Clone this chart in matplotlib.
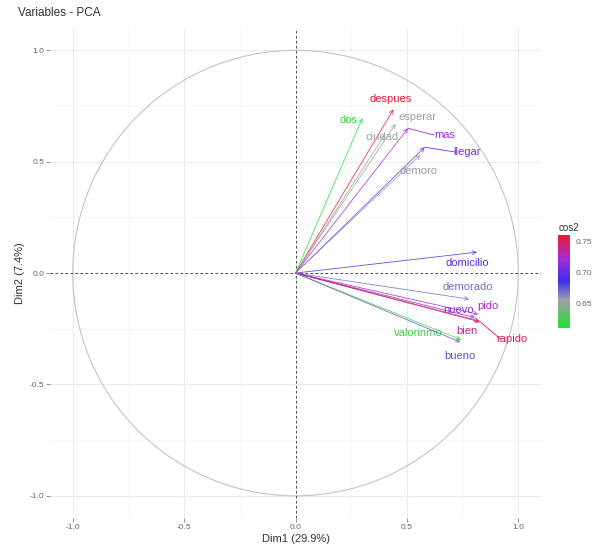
import numpy as np
import matplotlib
matplotlib.use('Agg')
import matplotlib.pyplot as plt
from matplotlib.colors import LinearSegmentedColormap, Normalize
from matplotlib.patches import Circle

plt.rcParams['font.family'] = ['Liberation Sans', 'DejaVu Sans']

# variable coordinates on Dim1 / Dim2 and their cos2
names = ['despues', 'dos', 'esperar', 'ciudad', 'mas', 'llegar', 'demoro',
         'domicilio', 'demorado', 'pido', 'nuevo', 'bien', 'rapido',
         'valorinmo', 'bueno']
dim1 = [0.44, 0.30, 0.45, 0.40, 0.505, 0.58, 0.56,
        0.815, 0.78, 0.82, 0.805, 0.825, 0.83, 0.745, 0.74]
dim2 = [0.735, 0.695, 0.67, 0.62, 0.65, 0.565, 0.53,
        0.094, -0.117, -0.185, -0.20, -0.215, -0.22, -0.30, -0.31]
cos2 = [0.76, 0.61, 0.655, 0.652, 0.72, 0.705, 0.657,
        0.695, 0.668, 0.725, 0.71, 0.735, 0.75, 0.62, 0.674]

# label placement (repelled text positions)
lab_x = [0.425, 0.237, 0.546, 0.39, 0.67, 0.77, 0.55,
         0.77, 0.774, 0.864, 0.73, 0.77, 0.97, 0.55, 0.74]
lab_y = [0.78, 0.686, 0.70, 0.61, 0.62, 0.543, 0.457,
         0.045, -0.063, -0.148, -0.166, -0.26, -0.296, -0.27, -0.372]
segments = ['mas', 'llegar', 'rapido']

cmap = LinearSegmentedColormap.from_list(
    'cos2', [(0.0, '#22e030'), (0.3, '#a0a0a8'), (0.5, '#3a2cf0'),
             (0.74, '#a42cd8'), (1.0, '#f01830')])
norm = Normalize(vmin=0.61, vmax=0.76)

fig = plt.figure(figsize=(5.97, 5.50), dpi=100)
ax = fig.add_axes([0.084, 0.058, 0.822, 0.891])
ax.set_xlim(-1.1, 1.1)
ax.set_ylim(-1.1, 1.1)
ax.set_aspect('equal', adjustable='box')

for s in ax.spines.values():
    s.set_visible(False)
ticks = [-1.0, -0.5, 0.0, 0.5, 1.0]
ax.set_xticks(ticks)
ax.set_yticks(ticks)
ax.set_xticks([-0.75, -0.25, 0.25, 0.75], minor=True)
ax.set_yticks([-0.75, -0.25, 0.25, 0.75], minor=True)
ax.grid(True, which='major', color='#ebebeb', lw=0.8)
ax.grid(True, which='minor', color='#f5f5f5', lw=0.5)
ax.set_axisbelow(True)
ax.tick_params(which='major', length=3, width=0.5, color='#666666',
               labelsize=6, labelcolor='#666666', pad=1.5)
ax.tick_params(which='minor', length=0)
ax.set_xticklabels(['-1.0', '-0.5', '0.0', '0.5', '1.0'])
ax.set_yticklabels(['-1.0', '-0.5', '0.0', '0.5', '1.0'])

ax.add_patch(Circle((0, 0), 1, fill=False, color='#c4c4c4', lw=0.8))
ax.axhline(0, color='#333333', ls=(0, (3, 3)), lw=0.6)
ax.axvline(0, color='#333333', ls=(0, (3, 3)), lw=0.6)

for i, n in enumerate(names):
    c = cmap(norm(cos2[i]))
    ax.annotate('', xy=(dim1[i], dim2[i]), xytext=(0, 0),
                arrowprops=dict(arrowstyle='->', color=c, lw=0.6,
                                shrinkA=0, shrinkB=0, alpha=0.85,
                                mutation_scale=7))
    if n in segments:
        ax.plot([dim1[i], lab_x[i] - 0.05], [dim2[i], lab_y[i]],
                color=c, lw=0.6)
    ax.text(lab_x[i], lab_y[i], n, color=c, fontsize=8,
            ha='center', va='center')

ax.set_xlabel('Dim1 (29.9%)', fontsize=8, color='#333333', labelpad=2)
ax.set_ylabel('Dim2 (7.4%)', fontsize=8, color='#333333', labelpad=3)
fig.text(0.03, 0.976, 'Variables - PCA', fontsize=8.5, color='#333333',
         ha='left', va='center')

cax = fig.add_axes([0.935, 0.404, 0.02, 0.169])
sm = plt.cm.ScalarMappable(norm=norm, cmap=cmap)
cb = fig.colorbar(sm, cax=cax, ticks=[0.65, 0.70, 0.75])
cb.outline.set_visible(False)
cb.ax.tick_params(length=0, labelsize=6, labelcolor='#666666', pad=4)
cb.ax.set_yticklabels(['0.65', '0.70', '0.75'])
cax.set_title('cos2', fontsize=7, color='#333333', loc='left', pad=3)

fig.savefig('out.png', dpi=100)
